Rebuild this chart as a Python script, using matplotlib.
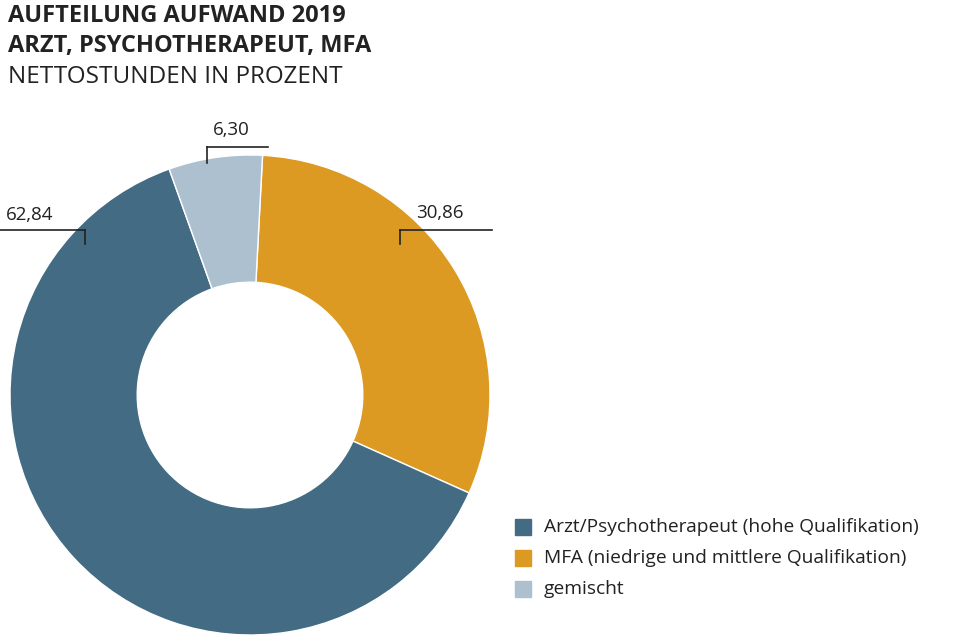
import matplotlib.pyplot as plt
from matplotlib.patches import Rectangle
from matplotlib.lines import Line2D

categories = ["MFA (niedrige und mittlere Qualifikation)",
              "Arzt/Psychotherapeut (hohe Qualifikation)", "gemischt"]
values = [30.86, 62.84, 6.30]
labels = ["30,86", "62,84", "6,30"]
colors = ["#dc9a22", "#436b84", "#adc0d0"]
legend_order = [1, 0, 2]

W, H = 960, 636
fig = plt.figure(figsize=(9.6, 6.36), dpi=100)
font = "Open Sans"

def px(x, y):
    return x / W, 1 - y / H

# titles
fig.text(*px(8, 16), "AUFTEILUNG AUFWAND 2019", fontsize=17, fontweight="bold",
         family=font, va="center", color="#222222")
fig.text(*px(8, 46), "ARZT, PSYCHOTHERAPEUT, MFA", fontsize=17, fontweight="bold",
         family=font, va="center", color="#222222")
fig.text(*px(8, 77), "NETTOSTUNDEN IN PROZENT", fontsize=17.5,
         family=font, va="center", color="#222222")

ax = fig.add_axes([10 / W, 1 / H, 480 / W, 480 / H])
ax.pie(values, colors=colors, startangle=87, counterclock=False,
       wedgeprops=dict(width=0.53, edgecolor="white", linewidth=1))
ax.set_aspect("equal")
ax.set_xlim(-1, 1)
ax.set_ylim(-1, 1)

# value labels with leader lines (figure pixel positions)
label_pos = {
    "62,84": ((0, 230), (85, 230), (85, 244), (6, 215)),
    "6,30": ((207, 147), (268, 147), (207, 163), (213, 130)),
    "30,86": ((400, 230), (492, 230), (400, 244), (416, 213)),
}
for lab in labels:
    a, b, c, t = label_pos[lab]
    x0, y0 = px(*a); x1, y1 = px(*b); x2, y2 = px(*c)
    fig.add_artist(Line2D([x0, x1], [y0, y1], color="#222222", lw=1.2,
                          transform=fig.transFigure))
    fig.add_artist(Line2D([x2, x2], [y0, y2], color="#222222", lw=1.2,
                          transform=fig.transFigure))
    fig.text(*px(*t), lab, fontsize=13.5, family=font, va="center", color="#222222")

# legend
for row, i in enumerate(legend_order):
    y = 527 + row * 31
    x0, y0 = px(515, y + 8)
    fig.add_artist(Rectangle((x0, y0), 16 / W, 16 / H, color=colors[i],
                             transform=fig.transFigure))
    fig.text(*px(544, y), categories[i], fontsize=13.8, family=font,
             va="center", color="#222222")

fig.savefig("out.png", dpi=100)
